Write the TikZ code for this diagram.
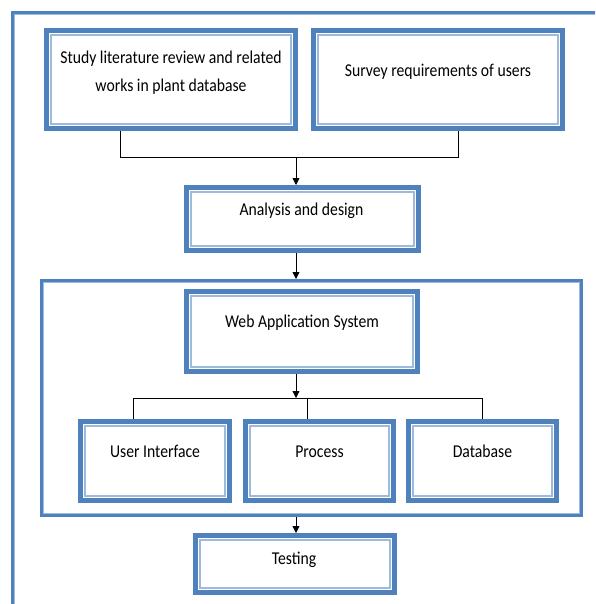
\documentclass[tikz,border=0pt]{standalone}
\usepackage{fontspec}
\setmainfont{Carlito}
\usetikzlibrary{arrows.meta,calc}
\definecolor{bdark}{HTML}{4F81BD}
\definecolor{blight}{HTML}{9DB9DC}
\newcommand{\stxt}[1]{\scalebox{1}[1.15]{\begin{tabular}{@{}c@{}}#1\end{tabular}}}
\tikzset{
  box/.style={draw=bdark, line width=5pt, fill=white, inner sep=0pt, outer sep=2.5pt,
    path picture={\draw[blight, line width=1.6pt]
      ([shift={(4.6pt,4.6pt)}]path picture bounding box.south west) rectangle
      ([shift={(-4.6pt,-4.6pt)}]path picture bounding box.north east);}},
  frame/.style={draw=bdark, line width=3pt, inner sep=0pt, outer sep=1.5pt,
    path picture={\draw[blight, line width=1.2pt]
      ([shift={(2pt,2pt)}]path picture bounding box.south west) rectangle
      ([shift={(-2pt,-2pt)}]path picture bounding box.north east);}},
  txt/.style={font=\fontsize{15.7}{24}\selectfont, inner sep=0pt, text=black},
  conn/.style={draw=black, line width=0.8pt},
  arr/.style={conn, -{Triangle[length=7pt,width=7pt]}}
}
\begin{document}
\begin{tikzpicture}[x=1pt,y=1pt]
\useasboundingbox (0,0) rectangle (595,-604);
\clip (0,0) rectangle (595,-604);
% outer page frame
\draw[bdark, line width=3pt] (12.5,-12.5) rectangle (620,-630);
\draw[blight, line width=1.4pt] (14.7,-14.7) rectangle (617.8,-627.8);

% container
\node[frame, minimum width=540pt, minimum height=235pt] (cont) at (311.5,-398) {};

% boxes
\node[box, minimum width=249pt, minimum height=98pt] (b1) at (171,-79.5) {};
\node[box, minimum width=249pt, minimum height=98pt] (b2) at (438,-79.5) {};
\node[box, minimum width=232pt, minimum height=63pt] (b3) at (302.5,-219) {};
\node[box, minimum width=231pt, minimum height=80pt] (web) at (302,-331.5) {};
\node[box, minimum width=149pt, minimum height=79pt] (ui) at (155,-461) {};
\node[box, minimum width=148pt, minimum height=79pt] (proc) at (319.5,-461) {};
\node[box, minimum width=148pt, minimum height=79pt] (db) at (482.5,-461) {};
\node[box, minimum width=199pt, minimum height=57pt] (test) at (295,-564) {};

% texts
\node[txt] (t1) at (171,-72) {\stxt{Study literature review and related\\works in plant database}};
\node[txt] (t2) at (438,-70.5) {\stxt{Survey requirements of users}};
\node[txt] (t3) at (301.5,-209.5) {\stxt{Analysis and design}};
\node[txt] (tweb) at (302,-321.5) {\stxt{Web Application System}};
\node[txt] (tui) at (155,-451.5) {\stxt{User Interface}};
\node[txt] (tproc) at (319.5,-451.5) {\stxt{Process}};
\node[txt] (tdb) at (482.5,-451.5) {\stxt{Database}};
\node[txt] (ttest) at (294,-558.5) {\stxt{Testing}};

% connectors
\coordinate (p1) at (120,-157);
\coordinate (p2) at (458,-157);
\coordinate (j1) at (296,-157);
\coordinate (q1) at (133,-398);
\coordinate (q2) at (307,-398);
\coordinate (q3) at (482,-398);
\coordinate (j2) at (296,-398);

\draw[conn] (b1.south -| p1) -- (p1) -- (p2) -- (b2.south -| p2);
\draw[arr] (j1) -- (b3.north -| j1);
\draw[arr] (b3.south -| j1) -- (cont.north -| j1);
\draw[arr] (web.south -| j2) -- (j2);
\draw[conn] (ui.north -| q1) -- (q1) -- (q3) -- (db.north -| q3);
\draw[conn] (q2) -- (proc.north -| q2);
\draw[arr] (cont.south -| j1) -- (test.north -| j1);
\end{tikzpicture}
\end{document}
